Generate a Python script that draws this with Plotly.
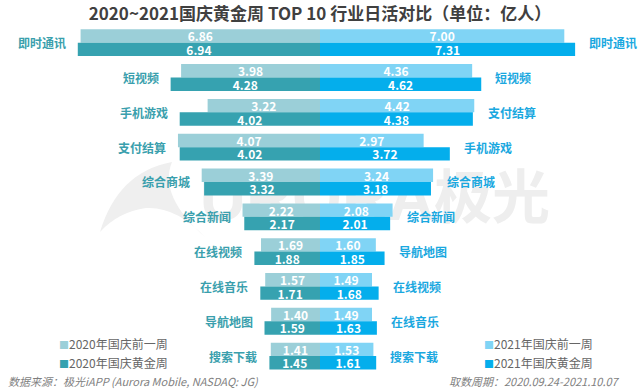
import plotly.graph_objects as go

# ---------------- data ----------------
ranks = list(range(1, 11))
left_cats = ['即时通讯', '短视频', '手机游戏', '支付结算', '综合商城',
             '综合新闻', '在线视频', '在线音乐', '导航地图', '搜索下载']
left_pre = [6.86, 3.98, 3.22, 4.07, 3.39, 2.22, 1.69, 1.57, 1.40, 1.41]
left_gold = [6.94, 4.28, 4.02, 4.02, 3.32, 2.17, 1.88, 1.71, 1.59, 1.45]
right_cats = ['即时通讯', '短视频', '支付结算', '手机游戏', '综合商城',
              '综合新闻', '导航地图', '在线视频', '在线音乐', '搜索下载']
right_pre = [7.00, 4.36, 4.42, 2.97, 3.24, 2.08, 1.60, 1.49, 1.49, 1.53]
right_gold = [7.31, 4.62, 4.38, 3.72, 3.18, 2.01, 1.85, 1.68, 1.63, 1.61]
series_names = ['2020年国庆前一周', '2020年国庆黄金周', '2021年国庆前一周', '2021年国庆黄金周']

# ---------------- style ----------------
W, H = 640, 392
FONT = 'Noto Sans CJK SC'
C_L_PRE, C_L_GOLD = '#9BCFD8', '#36A2B0'
C_R_PRE, C_R_GOLD = '#80D4F5', '#04AEEC'
C_L_TXT, C_R_TXT = '#3A9FAD', '#1AA8DF'
PX_PER_UNIT = 34.9
PITCH = 34.82
BAR_W = 0.385
xr = (W / 2) / PX_PER_UNIT
y_top = 1 - 42.7 / PITCH
y_bot = y_top + H / PITCH

fig = go.Figure()

# watermark (drawn on the base axes so bars cover it)
fig.add_trace(go.Scatter(
    x=[317, 492], y=[204, 203], mode='text', text=['URORA', '极光'],
    textfont=dict(family=['Liberation Sans', FONT], size=[64, 58], color='#EEEEEE', weight='bold'),
    xaxis='x', yaxis='y', hoverinfo='skip', showlegend=False))


def bars(vals, sign, offset, color, name):
    return go.Bar(
        y=ranks, x=[sign * v for v in vals], orientation='h',
        width=BAR_W, offset=offset, marker=dict(color=color, line=dict(width=0)),
        text=[f'{v:.2f}' for v in vals], textposition='inside',
        insidetextanchor='middle', textangle=0, constraintext='none',
        insidetextfont=dict(family=FONT, size=12, color='white', weight='bold'),
        name=name, xaxis='x2', yaxis='y2', hoverinfo='skip', showlegend=False)


fig.add_trace(bars(left_pre, -1, -BAR_W, C_L_PRE, series_names[0]))
fig.add_trace(bars(left_gold, -1, 0, C_L_GOLD, series_names[1]))
fig.add_trace(bars(right_pre, 1, -BAR_W, C_R_PRE, series_names[2]))
fig.add_trace(bars(right_gold, 1, 0, C_R_GOLD, series_names[3]))

ann = []
for r, cat, a, b in zip(ranks, left_cats, left_pre, left_gold):
    ann.append(dict(x=-max(a, b), y=r, xref='x2', yref='y2', text=cat, showarrow=False,
                    xanchor='right', yanchor='middle', xshift=-10,
                    font=dict(family=FONT, size=12, color=C_L_TXT, weight='bold')))
for r, cat, a, b in zip(ranks, right_cats, right_pre, right_gold):
    ann.append(dict(x=max(a, b), y=r, xref='x2', yref='y2', text=cat, showarrow=False,
                    xanchor='left', yanchor='middle', xshift=12,
                    font=dict(family=FONT, size=12, color=C_R_TXT, weight='bold')))


def pann(px, py, text, anchor='left', size=12, color='#666666', italic=False, weight='normal'):
    return dict(x=px / W, y=1 - py / H, xref='paper', yref='paper', text=text, showarrow=False,
                xanchor=anchor, yanchor='middle',
                font=dict(family=FONT, size=size, color=color, weight=weight,
                          style='italic' if italic else 'normal'))


def legend_item(px, py, color, label):
    return pann(px, py, f"<span style='color:{color};font-size:10px'>■</span>{label}", size=12)


ann.append(legend_item(57, 343, C_L_PRE, series_names[0]))
ann.append(legend_item(57, 362, C_L_GOLD, series_names[1]))
ann.append(legend_item(482, 343, C_R_PRE, series_names[2]))
ann.append(legend_item(482, 362, C_R_GOLD, series_names[3]))
ann.append(pann(6, 381, '数据来源：极光iAPP (Aurora Mobile, NASDAQ: JG)', size=11,
                color='#7F7F7F', italic=True))
ann.append(pann(622, 381, '取数周期：2020.09.24-2021.10.07', anchor='right', size=11,
                color='#7F7F7F', italic=True))

fig.update_layout(
    width=W, height=H, margin=dict(l=0, r=0, t=0, b=0),
    paper_bgcolor='white', plot_bgcolor='white',
    barmode='overlay',
    title=dict(text='<b>2020~2021国庆黄金周 TOP 10 行业日活对比（单位：亿人）</b>',
               x=0.5, xanchor='center', y=1 - 14 / H, yanchor='middle',
               font=dict(family=FONT, size=17, color='#404040')),
    xaxis=dict(range=[0, W], visible=False, fixedrange=True),
    yaxis=dict(range=[H, 0], visible=False, fixedrange=True),
    xaxis2=dict(range=[-xr, xr], visible=False, overlaying='x', fixedrange=True),
    yaxis2=dict(range=[y_bot, y_top], visible=False, overlaying='y', fixedrange=True),
    annotations=ann,
    shapes=[dict(type='path', xref='x', yref='y', layer='below',
                 path='M 100,232 Q 118,172 172,162 Q 158,196 206,238 Q 176,206 146,208 Q 118,212 100,232 Z',
                 fillcolor='#EFEFEF', line=dict(width=0))],
    showlegend=False,
)

fig.write_html('out.html', config={'displayModeBar': False},
               post_script="document.body.style.margin='0';document.body.style.overflow='hidden';")
